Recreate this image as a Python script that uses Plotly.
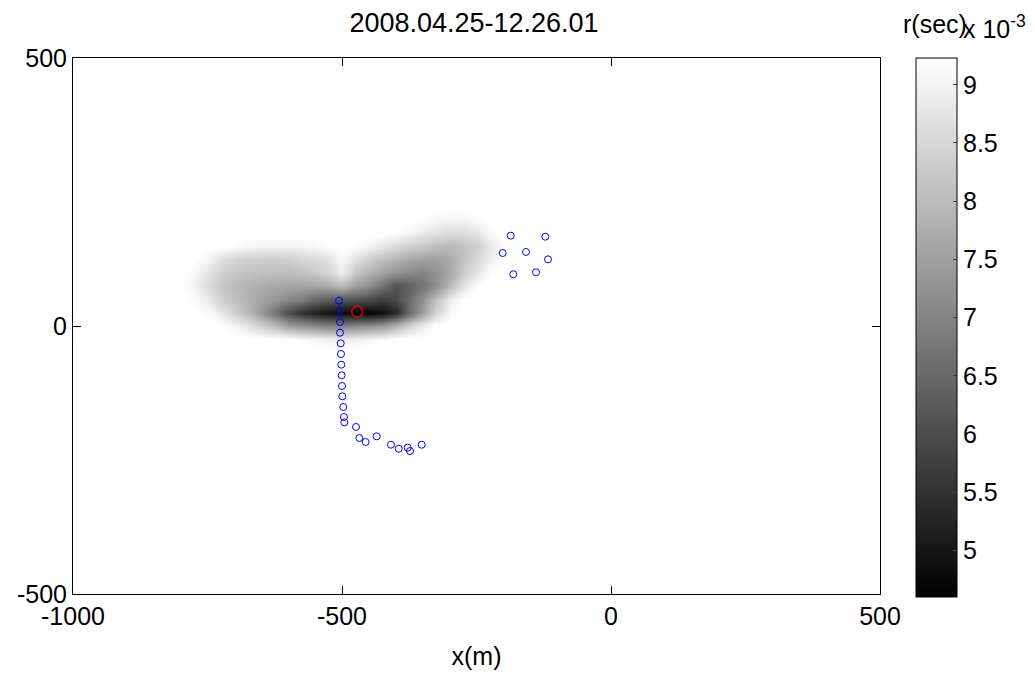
import plotly.graph_objects as go

# Source-location grid (m) and travel-time residual r (units of 1e-3 s)
grid_x = [-800, -775, -750, -725, -700, -675, -650, -625, -600, -575, -550, -525,
          -500, -475, -450, -425, -400, -375, -350, -325, -300, -275, -250, -225, -200]
grid_y = [-100, -75, -50, -25, 0, 25, 50, 75, 100, 125, 150, 175, 200, 225]

r_ym100 = [9.3] * 25
r_ym75 = [9.3] * 25
r_ym50 = [9.3] * 25
r_ym25 = [9.3, 9.3, 9.3, 9.3, 9.3, 9.3, 9.3, 9.3, 9.3, 9.2, 9.1, 9.0,
          8.95, 9.0, 9.1, 9.2, 9.3, 9.3, 9.3, 9.3, 9.3, 9.3, 9.3, 9.3, 9.3]
r_y0 = [9.3, 9.3, 9.3, 9.25, 9.0, 8.75, 8.4, 8.0, 7.5, 7.3, 7.1, 6.95,
        6.95, 7.1, 7.15, 7.35, 7.85, 8.4, 8.9, 9.25, 9.3, 9.3, 9.3, 9.3, 9.3]
r_y25 = [9.3, 9.3, 9.15, 8.8, 8.4, 7.95, 7.4, 6.7, 6.0, 5.5, 5.2, 4.95,
         4.8, 4.65, 4.65, 4.85, 5.35, 6.5, 7.5, 8.45, 9.1, 9.3, 9.3, 9.3, 9.3]
r_y50 = [9.3, 9.15, 8.85, 8.4, 8.1, 7.85, 7.6, 7.35, 7.1, 6.85, 6.5, 6.25,
         6.15, 6.1, 6.0, 5.7, 5.95, 6.55, 7.25, 8.1, 8.85, 9.25, 9.3, 9.3, 9.3]
r_y75 = [9.3, 9.0, 8.6, 8.25, 8.0, 7.85, 7.75, 7.65, 7.6, 7.6, 7.6, 7.7,
         8.0, 7.5, 7.2, 6.7, 6.1, 6.35, 6.7, 7.2, 7.95, 8.7, 9.2, 9.3, 9.3]
r_y100 = [9.3, 9.1, 8.75, 8.4, 8.2, 8.15, 8.1, 8.05, 8.05, 8.1, 8.25, 8.5,
          8.95, 8.2, 7.85, 7.55, 7.3, 7.1, 7.0, 7.25, 7.65, 8.3, 8.75, 9.2, 9.3]
r_y125 = [9.3, 9.3, 9.05, 8.7, 8.5, 8.4, 8.35, 8.35, 8.4, 8.5, 8.6, 8.75,
          9.1, 8.7, 8.4, 8.1, 7.9, 7.7, 7.55, 7.55, 7.7, 8.1, 8.5, 8.9, 9.25]
r_y150 = [9.3, 9.3, 9.3, 9.25, 9.2, 9.1, 9.05, 9.05, 9.05, 9.05, 9.1, 9.2,
          9.3, 9.2, 9.0, 8.8, 8.6, 8.4, 8.25, 8.1, 8.0, 8.1, 8.35, 8.8, 9.2]
r_y175 = [9.3, 9.3, 9.3, 9.3, 9.3, 9.3, 9.3, 9.3, 9.3, 9.3, 9.3, 9.3,
          9.3, 9.3, 9.3, 9.3, 9.2, 9.05, 8.85, 8.7, 8.6, 8.6, 8.8, 9.15, 9.3]
r_y200 = [9.3, 9.3, 9.3, 9.3, 9.3, 9.3, 9.3, 9.3, 9.3, 9.3, 9.3, 9.3,
          9.3, 9.3, 9.3, 9.3, 9.3, 9.3, 9.2, 9.1, 9.05, 9.05, 9.15, 9.3, 9.3]
r_y225 = [9.3] * 25
r_grid = [r_ym100, r_ym75, r_ym50, r_ym25, r_y0, r_y25, r_y50, r_y75,
          r_y100, r_y125, r_y150, r_y175, r_y200, r_y225]

# Sensor positions (m)
sensor_x = [-505.6, -505.0, -503.7, -503.7, -502.4, -501.9, -501.3, -500.6, -500.0,
            -499.4, -497.6, -496.3, -495.7, -474.0, -467.8, -456.0, -435.5, -409.0,
            -394.6, -377.9, -373.6, -351.9,
            -186.4, -122.1, -201.3, -158.0, -117.1, -181.6, -139.4]
sensor_y = [47.2, 28.5, 7.5, -12.5, -32.3, -52.2, -72.2, -92.0, -111.9,
            -131.2, -151.1, -169.8, -179.7, -188.4, -209.0, -216.4, -205.8, -221.5,
            -228.9, -227.0, -233.2, -221.5,
            168.5, 166.6, 136.2, 138.1, 124.4, 96.5, 100.2]

# Best-fit source location (m)
source_x = [-471.6]
source_y = [26.7]

cbar_ticks = [5, 5.5, 6, 6.5, 7, 7.5, 8, 8.5, 9]
cbar_labels = ["5", "5.5", "6", "6.5", "7", "7.5", "8", "8.5", "9"]
x_ticks = [-1000, -500, 0, 500]
x_labels = ["-1000", "-500", "0", "500"]
y_ticks = [-500, 0, 500]
y_labels = ["-500", "0", "500"]

FONT = "Liberation Sans, Arial, Helvetica, sans-serif"

fig = go.Figure()
fig.add_trace(go.Heatmap(
    x=grid_x, y=grid_y, z=r_grid,
    colorscale=[[0, "black"], [1, "white"]],
    zmin=4.6, zmax=9.23, zsmooth="best",
    showscale=True,
    colorbar=dict(
        x=1.0446, xanchor="left", xpad=0,
        y=1.0, yanchor="top", ypad=0, len=1.0056, lenmode="fraction",
        thickness=41, thicknessmode="pixels",
        outlinewidth=1, outlinecolor="black",
        tickvals=cbar_ticks, ticktext=cbar_labels,
        ticks="inside", ticklen=4, tickcolor="#444",
        tickfont=dict(family=FONT, size=25, color="black"),
    ),
))
fig.add_trace(go.Scatter(
    x=sensor_x, y=sensor_y, mode="markers",
    marker=dict(symbol="circle-open", size=7, color="blue", line=dict(width=1)),
    showlegend=False, hoverinfo="skip",
))
fig.add_trace(go.Scatter(
    x=source_x, y=source_y, mode="markers",
    marker=dict(symbol="circle-open", size=11, color="red", line=dict(width=1.2)),
    showlegend=False, hoverinfo="skip",
))

axis_common = dict(
    showgrid=False, zeroline=False, showline=True, linecolor="black", linewidth=1,
    mirror="ticks", ticks="inside", ticklen=8, tickcolor="black", automargin=False,
    tickfont=dict(family=FONT, size=25, color="black"),
)
fig.update_xaxes(range=[-1000, 500], tickvals=x_ticks, ticktext=x_labels,
                 title=dict(text="x(m)", font=dict(family=FONT, size=25, color="black"), standoff=18),
                 **axis_common)
fig.update_yaxes(range=[-500, 500], tickvals=y_ticks, ticktext=y_labels, **axis_common)

fig.update_layout(
    width=1035, height=675,
    margin=dict(l=73, r=155, t=58, b=81, autoexpand=False),
    paper_bgcolor="white", plot_bgcolor="white",
    font=dict(family=FONT, color="black"),
    title=dict(text="2008.04.25-12.26.01", x=474 / 1035, xanchor="center",
               y=1 - 23 / 675, yanchor="middle",
               font=dict(family=FONT, size=27, color="black")),
    showlegend=False,
    annotations=[
        dict(text="r(sec)", xref="paper", yref="paper", x=1.0678, y=1.0635,
             xanchor="center", yanchor="middle", showarrow=False,
             font=dict(family=FONT, size=25, color="black")),
        dict(text="x 10<sup>-3</sup>", xref="paper", yref="paper", x=1.1425, y=1.058,
             xanchor="center", yanchor="middle", showarrow=False,
             font=dict(family=FONT, size=25, color="black")),
    ],
)

fig.write_html("out.html")
